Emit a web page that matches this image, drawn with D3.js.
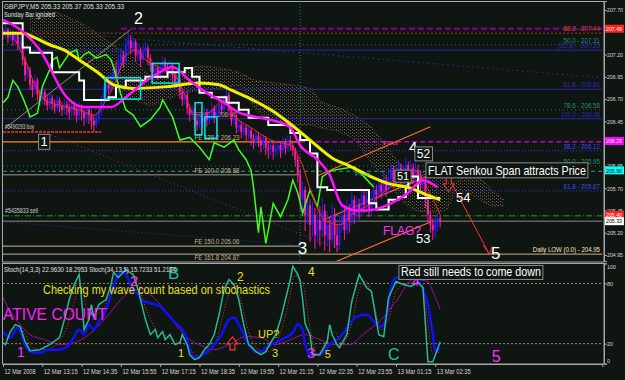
<!DOCTYPE html>
<html>
<head>
<meta charset="utf-8">
<script src="https://cdn.jsdelivr.net/npm/d3@7"></script>
<style>
  body { margin: 0; background: #0f1511; }
  svg text { font-family: "Liberation Sans", Arial, sans-serif; }
</style>
</head>
<body>
<svg id="chart" width="625" height="380"></svg>
<script>
// Data ***********************************************************************
// GBPJPY M5 bars, open = previous close
var firstOpen = 207.44;
var barClose = [207.42,207.48,207.39,207.44,207.36,207.42,207.31,207.34,207.14,206.97,207.03,206.86,206.80,206.91,206.75,206.69,
  206.78,206.69,206.63,206.71,206.65,206.60,206.69,206.62,206.58,206.64,206.60,206.55,206.63,206.58,206.52,206.60,
  206.55,206.49,206.58,206.52,206.46,206.41,206.49,206.55,206.69,206.78,206.86,206.82,206.94,207.03,206.97,207.14,
  207.19,207.12,207.31,207.36,207.27,207.34,207.19,207.25,207.14,207.23,207.27,207.16,207.08,207.00,207.05,206.97,
  207.03,207.12,207.05,207.00,207.08,206.97,206.89,206.91,206.78,206.69,206.75,206.60,206.52,206.58,206.46,206.41,
  206.49,206.44,206.55,206.46,206.52,206.60,206.49,206.55,206.63,206.58,206.69,206.75,206.58,206.46,206.49,206.38,
  206.41,206.33,206.38,206.30,206.35,206.26,206.22,206.29,206.24,206.18,206.26,206.15,206.13,206.18,206.11,206.15,
  206.18,206.13,206.22,206.15,206.24,206.18,206.13,206.02,205.85,205.57,205.68,205.40,205.51,205.29,205.40,205.17,
  205.34,205.23,205.45,205.17,205.29,205.12,205.40,205.17,205.06,205.29,205.40,205.23,205.45,205.34,205.57,205.40,
  205.51,205.43,205.62,205.51,205.59,205.45,205.57,205.68,205.62,205.74,205.66,205.79,205.68,205.81,205.90,205.77,
  205.85,205.93,205.79,205.88,205.96,205.85,205.93,205.81,205.90,205.85,205.74,205.79,205.57,205.40,205.29,205.23,
  205.31,205.36,205.33];
var barHigh = [207.50,207.53,207.50,207.49,207.47,207.46,207.44,207.40,207.36,207.18,207.09,207.06,206.92,206.97,206.94,206.80,
  206.84,206.81,206.73,206.76,206.75,206.70,206.74,206.72,206.67,206.70,206.68,206.65,206.69,206.67,206.62,206.66,
  206.64,206.58,206.63,206.62,206.57,206.52,206.55,206.62,206.74,206.84,206.92,206.95,207.00,207.10,207.12,207.20,
  207.28,207.24,207.38,207.45,207.42,207.40,207.37,207.33,207.28,207.30,207.34,207.30,207.20,207.12,207.10,207.08,
  207.10,207.18,207.16,207.10,207.14,207.11,207.00,206.97,206.94,206.82,206.80,206.79,206.64,206.63,206.61,206.51,
  206.55,206.53,206.61,206.59,206.58,206.66,206.63,206.61,206.70,206.68,206.75,206.82,206.78,206.61,206.55,206.52,
  206.47,206.45,206.43,206.41,206.40,206.38,206.31,206.35,206.33,206.28,206.31,206.29,206.21,206.24,206.22,206.21,
  206.25,206.23,206.28,206.26,206.30,206.29,206.22,206.16,206.06,205.90,205.78,205.72,205.62,205.58,205.55,205.48,
  205.45,205.50,205.60,205.52,205.44,205.38,205.52,205.48,205.30,205.40,205.55,205.48,205.58,205.52,205.66,205.62,
  205.60,205.58,205.70,205.68,205.68,205.65,205.66,205.76,205.74,205.82,205.80,205.88,205.85,205.92,205.98,205.95,
  205.94,206.02,205.98,205.96,206.04,206.00,206.02,205.98,205.99,205.96,205.90,205.86,205.82,205.62,205.45,205.36,
  205.38,205.42,205.40];
var barLow = [207.36,207.38,207.33,207.35,207.30,207.32,207.25,207.22,207.08,206.90,206.93,206.80,206.72,206.76,206.68,206.62,
  206.64,206.63,206.57,206.59,206.58,206.54,206.56,206.55,206.51,206.53,206.52,206.47,206.50,206.51,206.44,206.47,
  206.46,206.40,206.43,206.42,206.36,206.33,206.37,206.44,206.52,206.65,206.74,206.76,206.79,206.90,206.92,206.94,
  207.08,207.05,207.09,207.24,207.20,207.22,207.12,207.13,207.06,207.10,207.17,207.08,207.01,206.93,206.95,206.91,
  206.94,206.99,207.00,206.93,206.96,206.90,206.82,206.84,206.70,206.62,206.64,206.53,206.45,206.47,206.38,206.34,
  206.37,206.36,206.40,206.39,206.42,206.47,206.43,206.44,206.51,206.52,206.54,206.64,206.52,206.40,206.41,206.31,
  206.33,206.26,206.28,206.22,206.24,206.18,206.14,206.17,206.16,206.10,206.13,206.07,206.03,206.07,206.02,206.05,
  206.08,206.04,206.09,206.08,206.11,206.12,206.06,205.94,205.76,205.45,205.40,205.22,205.30,205.10,205.15,205.02,
  205.08,205.05,205.15,205.00,205.05,204.98,205.06,205.03,204.98,205.01,205.20,205.12,205.18,205.20,205.28,205.30,
  205.32,205.35,205.38,205.42,205.45,205.38,205.40,205.50,205.54,205.58,205.58,205.60,205.60,205.64,205.74,205.70,
  205.72,205.80,205.72,205.74,205.82,205.78,205.80,205.75,205.76,205.78,205.66,205.68,205.48,205.32,205.20,205.12,
  205.15,205.22,205.26];

// indicator lines on the price chart, [bar, price]
var maYellow = [[0,207.44],[8,207.44],[12,207.40],[19,207.31],[25,207.25],[31,207.14],[39,206.99],[45,206.86],[53,206.82],
  [67,206.84],[80,206.88],[88,206.86],[93,206.80],[101,206.70],[109,206.58],[117,206.42],[125,206.24],[134,206.04],
  [141,205.95],[149,205.84],[156,205.76],[166,205.70],[172,205.63],[178,205.57]];
var maMagenta = [[0,207.59],[7,207.48],[15,207.25],[26,206.72],[33,206.61],[44,206.61],[50,206.72],[57,206.88],[63,206.99],
  [69,207.06],[76,206.91],[83,206.77],[90,206.66],[96,206.55],[103,206.50],[110,206.46],[117,206.38],[121,206.18],
  [128,206.02],[133,205.85],[138,205.51],[144,205.45],[148,205.45],[158,205.53],[165,205.65],[171,205.79],[177,205.71]];
var kijunWhite = [[0,207.55],[8,207.28],[11,207.22],[20,207.00],[31,206.91],[33,206.69],[43,206.72],[46,206.84],[50,206.91],
  [58,206.95],[67,207.00],[74,207.05],[77,206.95],[80,206.77],[85,206.72],[91,206.66],[96,206.58],[100,206.49],[108,206.41],
  [117,206.32],[121,206.24],[125,206.09],[128,205.71],[132,205.68],[149,205.53],[152,205.46],[157,205.57],[161,205.60],
  [164,205.71],[165,205.83],[169,205.59],[178,205.59]];
var chikouGreen = [[0,206.66],[2,206.72],[4,206.91],[6,206.84],[8,206.72],[10,206.58],[11,206.50],[14,206.54],[16,206.84],
  [19,207.03],[20,207.14],[22,207.17],[23,207.05],[26,207.17],[27,207.22],[30,207.25],[31,207.14],[33,207.20],[35,207.23],
  [38,207.16],[42,207.20],[44,207.14],[45,207.06],[48,206.75],[50,206.58],[53,206.52],[56,206.39],[60,206.47],[64,206.61],
  [65,206.69],[69,206.50],[72,206.24],[76,206.27],[80,206.16],[84,206.02],[86,206.21],[90,206.16],[94,206.24],[96,206.13],
  [99,206.02],[101,205.90],[102,205.71],[103,205.46],[104,205.20],[105,205.49],[107,205.08],[110,205.53],[113,205.38],
  [116,205.57],[118,205.79],[120,205.65],[122,205.42],[125,205.68],[128,205.49],[130,205.83],[134,205.90],[143,205.94],
  [147,205.83],[151,205.71]];
var maRed = [[5,207.36],[9,207.14],[13,206.86],[17,206.69],[23,206.63],[31,206.58],[37,206.52],[42,206.69],[46,206.91],
  [50,207.19],[54,207.25],[58,207.14],[64,207.05],[70,206.97],[74,206.75],[78,206.52],[84,206.55],[90,206.69],[94,206.52],
  [101,206.38],[109,206.24],[117,206.18],[121,206.02],[126,205.62],[131,205.34],[137,205.29],[143,205.43],[149,205.51],
  [156,205.68],[162,205.79],[168,205.90],[172,205.74],[178,205.40]];

// ichimoku cloud
var cloudBars = [11,17,23,29,35,42,48,54,60,66,72,80,88,96,103,109,117,125,129,137,143,149,156,162,168,174,180,184,188,194,200,204];
var cloudTop = [207.61,207.68,207.66,207.59,207.50,207.36,207.25,207.14,206.97,206.94,207.00,207.07,207.05,207.00,206.91,206.89,
  206.86,206.82,206.69,206.60,206.52,206.41,206.18,205.96,205.88,205.88,205.79,205.77,205.88,205.81,205.66,205.57];
var cloudBottom = [207.48,207.36,207.27,207.19,207.12,206.91,206.75,206.69,206.63,206.69,206.75,206.80,206.82,206.85,206.58,206.46,
  206.41,206.41,206.38,206.33,206.24,206.02,205.79,205.57,205.45,205.43,205.45,205.62,205.66,205.57,205.50,205.50];

// stochastics, [bar, value]
var stochFast = [[0,21],[1,19],[3,32],[5,39],[7,37],[9,22],[11,13],[15,14],[19,19],[23,26],[25,44],[27,64],[29,79],[31,89],
  [32,64],[33,34],[35,44],[36,59],[37,46],[39,59],[42,64],[44,79],[45,91],[47,86],[50,94],[51,92],[53,89],[55,74],[56,64],
  [58,44],[60,29],[62,34],[63,26],[65,32],[66,24],[68,29],[70,19],[72,21],[73,29],[75,19],[76,9],[78,4],[80,6],[82,14],
  [84,19],[86,29],[88,49],[90,74],[92,84],[94,79],[96,64],[98,39],[100,19],[101,17],[103,12],[105,9],[107,12],[109,21],
  [111,29],[113,44],[115,64],[117,84],[118,97],[120,89],[121,82],[122,64],[123,40],[125,29],[126,9],[129,9],[132,22],
  [133,39],[134,29],[136,19],[137,16],[140,29],[142,62],[145,89],[148,76],[150,72],[153,29],[155,27],[157,66],[160,82],
  [163,79],[166,77],[169,81],[171,76],[173,2],[175,2],[178,22]];
var stochFastSig = [[0,24],[3,26],[6,36],[9,30],[12,16],[17,14],[22,20],[26,36],[29,62],[32,80],[34,56],[37,48],[41,56],
  [45,78],[49,90],[52,91],[55,80],[58,56],[62,36],[66,28],[71,22],[75,18],[79,8],[83,10],[87,24],[91,62],[94,80],[97,62],
  [100,32],[104,14],[108,12],[112,24],[116,58],[119,88],[122,80],[125,36],[128,10],[132,24],[135,32],[138,20],[142,40],
  [145,74],[148,82],[151,60],[154,34],[157,44],[160,72],[164,80],[168,80],[171,78],[173,40],[175,10],[178,12]];
var stochSlow = [[0,32],[3,26],[6,36],[9,19],[11,12],[15,11],[19,14],[23,14],[27,19],[29,27],[31,34],[33,29],[35,39],[37,34],
  [39,42],[42,54],[44,69],[46,84],[48,92],[50,89],[53,74],[55,69],[56,64],[59,61],[62,59],[64,57],[66,52],[69,44],[71,39],
  [73,34],[75,24],[76,14],[78,6],[80,7],[82,10],[84,14],[86,19],[89,29],[92,44],[94,46],[96,39],[99,24],[101,16],[103,12],
  [105,12],[107,16],[109,19],[112,22],[115,26],[118,31],[120,39],[122,34],[123,19],[125,9],[129,9],[133,19],[137,26],
  [144,47],[148,49],[151,42],[154,37],[156,46],[158,76],[160,86],[162,86],[165,86],[168,86],[170,79],[173,59],[175,29],
  [176,12],[178,16]];
var stochSlowSig = [[0,66],[3,52],[7,39],[11,29],[17,24],[23,19],[29,21],[35,29],[42,46],[48,64],[52,72],[56,74],[60,69],
  [64,59],[68,46],[72,34],[76,24],[80,19],[86,14],[92,19],[99,27],[105,26],[111,19],[117,24],[123,29],[129,24],[135,19],
  [141,19],[147,30],[154,44],[160,62],[167,84],[173,82],[175,72],[178,54]];

// axes (207.45 and 206.20 sit under the price boxes)
var priceTicks = [207.70,207.20,206.95,206.70,206.45,205.95,205.70,205.45,205.20,204.95];
var stochTicks = [100,80,20,0];
var timeTickBars = [0,16,32,48,64,80,96,112,128,144,160,176];
var timeLabels = ["12 Mar 2008","12 Mar 13:15","12 Mar 14:35","12 Mar 15:55","12 Mar 17:15","12 Mar 18:35",
  "12 Mar 19:55","12 Mar 21:15","12 Mar 22:35","12 Mar 23:55","13 Mar 01:15","13 Mar 02:35"];

// horizontal levels
var levelPrices = [207.49,207.44,207.31,207.25,206.81,206.58,206.48,206.33,206.22,206.22,206.12,205.95,205.89,205.85,205.67,205.39,205.33,205.05,204.96];
var levelLabels = ["","88.2 - 207.44","50.0 - 207.31","(61.8) - 207.25","61.8 - 206.81","78.6 - 206.58","100.0 - 206.48","","","",
  "38.2 - 206.12","50.0 - 205.95","","","61.8 - 205.67","","","","Daily LOW (0.0) - 204.95"];
var levelFrom = [48,0,0,0,0,0,0,0,0,121,0,0,0,0,0,0,0,0,0];
var levelTo = [244,244,244,244,244,244,244,40,121,244,244,244,244,121,244,244,244,121,244];
var feLabels = ["FE 61.8  206.46","FE 138.2  206.23","FE 100.0  205.88","FE 150.0  205.06","FE 161.8  204.87"];
var fePrices = [206.48,206.22,205.85,205.05,204.87];

// price boxes on the scale
var boxPrices = [207.49,206.23,205.90,205.40,205.33];

// trendlines, [bar, price] pairs
var trendFrom = [[0.8,206.37],[15,206.35],[1,205.32],[39,207.41],[128,205.84],[130,205.34],[135,204.87],[183,205.74]];
var trendTo = [[51.7,207.475],[137,205.01],[117,205.07],[244,206.94],[174,206.39],[174,205.85],[174,205.32],[198,204.96]];

// cyan boxes [bar0, bar1, priceTop, priceBottom]
var cyanBoxes = [[41.5,56,206.94,206.70],[60.7,71.7,207.10,206.88],[78.2,81,206.66,206.30],[82.2,87.1,206.50,206.26]];

// notes on the price chart
var mainNotes = [[53.3,207.54,"2"],[15.3,206.17,"1"],[120,204.96,"3"],[165.3,206.11,"4"],[168.5,206.04,"52"],
  [160.4,205.79,"51"],[173,205.85,"FLAT Senkou Span attracts Price"],[184.4,205.55,"54"],[168.2,205.08,"53"],
  [154.7,205.17,"FLAG?"],[198.7,204.90,"5"],[154.7,206.18,"Pivot"],[143.3,205.84,"Pivot"]];
// notes on the stochastics
var stochNotes = [[67.2,84,"B"],[51.7,77,"2"],[95.3,82,"2"],[124.2,87,"4"],[166.5,77,"4"],
  [16.3,69,"Checking my wave count based on stochastics"],[0,44,"ATIVE COUNT"],[5.7,7,"1"],[71.3,7,"1"],
  [103.8,26,"UP?"],[109.5,7,"3"],[123.8,6,"3"],[131,6,"5"],[156.8,4,"C"],[199,2,"5"],[162,87,"Red still needs to come down"]];

// Styles *********************************************************************
var levelStyles = [["#7a007a",2.5,"6,3"],["#a83a28",1,"2,2"],["#1f6f60",1,"1,3"],["#22228a",1.2,null],["#22228a",1.2,null],
  ["#1f6f60",1,"1,3"],["#22228a",1.2,null],["#ff3030",1.5,"3,1"],["#ff8a20",1.2,null],["#c000c0",1.5,"5,3"],
  ["#3434d8",1,"1,2"],["#1f6f60",1,"1,3"],["#2b9a8a",1,"4,3"],["#9a9a9a",1,null],["#3434d8",1,"1,2"],
  ["#2a9a2a",1,"6,2,1,2"],["#8a8a8a",1,null],["#c8b898",1,null],["#c8b090",1,null]];
var trendStyles = [["#b8a888",0.8,null],["#8a2a8a",1,"1,3"],["#3030c0",1,"1,3"],["#3a3ae0",1,"1,4"],
  ["#ff6a2a",1.2,null],["#ff6a2a",1.2,null],["#ff6a2a",1.2,null],["#ff3030",1,null]];
// [size, colour, boxed, fit width]
var mainNoteStyles = [[16,"#fff",0,0],[13,"#fff",1,0],[17,"#fff",0,0],[15,"#fff",0,0],[12,"#fff",1,0],[11,"#fff",1,0],
  [13,"#fff",1,158],[13,"#fff",0,0],[13,"#fff",0,0],[12,"#ff30ff",0,0],[17,"#fff",0,0],[6,"#ff4aa0",0,15],[6,"#30b090",0,15]];
var stochNoteStyles = [[17,"#20c0a0",0,0],[15,"#ff30ff",0,0],[12,"#e8e020",0,0],[12,"#e8e020",0,0],[13,"#ff30ff",0,0],
  [12,"#e8e020",0,227],[17,"#ff20ff",0,104],[14,"#ff30ff",0,0],[11,"#e8e020",0,0],[11,"#e8e020",0,0],[11,"#e8e020",0,0],
  [15,"#ff30ff",0,0],[11,"#e8e020",0,0],[16,"#20c0a0",0,0],[16,"#ff30ff",0,0],[12,"#fff",1,140]];
var boxColors = ["#ff2020","#ff00ff","#00ffff","#ff2020","#ffffff"];
var boxText = ["#fff","#fff","#000","#fff","#000"];

// Chart **********************************************************************
var svg = d3.select("#chart");
svg.append("rect").attr("width", 625).attr("height", 380).attr("fill", "#0f1511");

var x = d3.scaleLinear().domain([0, 244]).range([3, 602.3]);
var y = d3.scaleLinear().domain([204.883, 207.801]).range([261, 1]);
var ys = d3.scaleLinear().domain([0, 100]).range([363.7, 263.4]);

var defs = svg.append("defs");
defs.append("clipPath").attr("id", "clipMain").append("rect").attr("x", 3).attr("y", 2).attr("width", 600).attr("height", 259);
defs.append("clipPath").attr("id", "clipStoch").append("rect").attr("x", 3).attr("y", 264).attr("width", 600).attr("height", 100);
var kumo = defs.append("pattern").attr("id", "kumo").attr("width", 4).attr("height", 3).attr("patternUnits", "userSpaceOnUse");
kumo.append("rect").attr("x", 0).attr("y", 0).attr("width", 1).attr("height", 1).attr("fill", "#8a5a48");
kumo.append("rect").attr("x", 2).attr("y", 1).attr("width", 1).attr("height", 1).attr("fill", "#5e5a56");

function fit(sel, len) {
  if (len) sel.attr("textLength", len).attr("lengthAdjust", "spacingAndGlyphs");
  return sel;
}
function boxAround(g, t) {
  var b = t.node().getBBox();
  g.insert("rect", function(){ return t.node(); })
    .attr("x", b.x - 2).attr("y", b.y).attr("width", b.width + 4).attr("height", b.height)
    .attr("fill", "#0f1511").attr("stroke", "#8c8c8c").attr("stroke-width", 1);
}

var main = svg.append("g").attr("clip-path", "url(#clipMain)");

// cloud
var cloud = cloudBars.map(function(b, i){ return {b: b, top: cloudTop[i], bot: cloudBottom[i]}; });
main.append("path").datum(cloud)
  .attr("d", d3.area().x(d => x(d.b)).y0(d => y(d.bot)).y1(d => y(d.top)).curve(d3.curveMonotoneX))
  .attr("fill", "url(#kumo)");
["top", "bot"].forEach(function(k){
  main.append("path").datum(cloud)
    .attr("d", d3.line().x(d => x(d.b)).y(d => y(d[k])).curve(d3.curveMonotoneX))
    .attr("fill", "none").attr("stroke", "#7a5242").attr("stroke-dasharray", "1,2");
});

// vertical marker
main.append("line").attr("x1", x(121)).attr("x2", x(121)).attr("y1", 1).attr("y2", 261)
  .attr("stroke", "#1f7f7f").attr("stroke-dasharray", "1,2");

// horizontal levels
levelPrices.forEach(function(p, i){
  var s = levelStyles[i];
  main.append("line").attr("x1", x(levelFrom[i])).attr("x2", x(levelTo[i]))
    .attr("y1", y(p)).attr("y2", y(p))
    .attr("stroke", s[0]).attr("stroke-width", s[1]).attr("stroke-dasharray", s[2]);
  if (levelLabels[i]) {
    fit(main.append("text").attr("x", 600).attr("y", y(p) - 2).attr("text-anchor", "end")
      .attr("font-size", 6.5).attr("fill", d3.color(s[0]).brighter(0.7)).text(levelLabels[i]), levelLabels[i].length * 2.8);
  }
});
fePrices.forEach(function(p, i){
  fit(main.append("text").attr("x", x(78)).attr("y", y(p) - 2).attr("font-size", 6.5).attr("fill", "#c8b898")
    .text(feLabels[i]), feLabels[i].length * 2.8);
});
fit(main.append("text").attr("x", 5).attr("y", y(206.33) - 3).attr("font-size", 6.5).attr("fill", "#d0d0d0").text("#5490293 buy"), 29);
fit(main.append("text").attr("x", 5).attr("y", y(205.39) - 3).attr("font-size", 6.5).attr("fill", "#d0d0d0").text("#5435833 sell"), 33);

// trendlines
trendFrom.forEach(function(a, i){
  var s = trendStyles[i];
  main.append("line").attr("x1", x(a[0])).attr("y1", y(a[1])).attr("x2", x(trendTo[i][0])).attr("y2", y(trendTo[i][1]))
    .attr("stroke", s[0]).attr("stroke-width", s[1]).attr("stroke-dasharray", s[2]);
});
// arrow head at the end of the red line
var tip = trendTo[7];
main.append("path")
  .attr("d", "M" + (x(tip[0]) - 6) + "," + (y(tip[1]) - 9) + "L" + x(tip[0]) + "," + y(tip[1]) + "L" + (x(tip[0]) + 3) + "," + (y(tip[1]) - 8))
  .attr("fill", "none").attr("stroke", "#ff3030").attr("stroke-width", 1);

// bars
var bars = barClose.map(function(c, i){
  return {i: i, o: i ? barClose[i - 1] : firstOpen, h: barHigh[i], l: barLow[i], c: c};
});
var barCol = d => d.c >= d.o ? "#2020ff" : "#ff1c9c";
main.selectAll(".wick").data(bars).enter().append("line")
  .attr("x1", d => x(d.i)).attr("x2", d => x(d.i)).attr("y1", d => y(d.h)).attr("y2", d => y(d.l))
  .attr("stroke", barCol).attr("stroke-width", 1);
main.selectAll(".body").data(bars).enter().append("rect")
  .attr("x", d => x(d.i) - 1).attr("width", 2)
  .attr("y", d => y(Math.max(d.o, d.c))).attr("height", d => Math.max(1, Math.abs(y(d.o) - y(d.c))))
  .attr("fill", barCol);

// indicator lines
function drawLine(g, data, sy, curve, col, w, dash) {
  g.append("path").datum(data)
    .attr("d", d3.line().x(d => x(d[0])).y(d => sy(d[1])).curve(curve))
    .attr("fill", "none").attr("stroke", col).attr("stroke-width", w).attr("stroke-dasharray", dash || null);
}
drawLine(main, chikouGreen, y, d3.curveLinear, "#3cff1e", 1.5);
drawLine(main, maRed, y, d3.curveMonotoneX, "#ff2a2a", 1);
drawLine(main, kijunWhite, y, d3.curveStepAfter, "#ffffff", 2);
drawLine(main, maYellow, y, d3.curveMonotoneX, "#f0f000", 3);
drawLine(main, maMagenta, y, d3.curveMonotoneX, "#ff10ff", 2.5);

// cyan boxes
cyanBoxes.forEach(function(b){
  main.append("rect").attr("x", x(b[0])).attr("y", y(b[2])).attr("width", x(b[1]) - x(b[0])).attr("height", y(b[3]) - y(b[2]))
    .attr("fill", "none").attr("stroke", "#00e8e8").attr("stroke-width", 1.5);
});

// red down arrow
var ax = x(181.5), ay = y(205.85);
main.append("path")
  .attr("d", "M" + (ax - 2.5) + "," + ay + "h5v9h3l-5.5,8l-5.5,-8h3z")
  .attr("fill", "none").attr("stroke", "#ff3030").attr("stroke-width", 1);

// notes
mainNotes.forEach(function(n, i){
  var s = mainNoteStyles[i];
  var t = fit(main.append("text").attr("x", x(n[0])).attr("y", y(n[1])).attr("font-size", s[0]).attr("fill", s[1]).text(n[2]), s[3]);
  if (s[2]) boxAround(main, t);
});

// header
fit(svg.append("text").attr("x", 4).attr("y", 9).attr("font-size", 7).attr("fill", "#e0e0e0")
  .text("GBPJPY,M5  205.33 205.37 205.33 205.33"), 120);
fit(svg.append("text").attr("x", 4).attr("y", 17).attr("font-size", 7).attr("fill", "#e0e0e0").text("Sunday Bar ignored"), 51);

// Stochastics ****************************************************************
var sto = svg.append("g").attr("clip-path", "url(#clipStoch)");
[80, 20].forEach(function(v){
  sto.append("line").attr("x1", 3).attr("x2", 603).attr("y1", ys(v)).attr("y2", ys(v))
    .attr("stroke", "#8a8a8a").attr("stroke-dasharray", "2,2");
});
drawLine(sto, stochSlowSig, ys, d3.curveMonotoneX, "#9a109a", 1);
drawLine(sto, stochFastSig, ys, d3.curveMonotoneX, "#ff3030", 1, "1,2");
drawLine(sto, stochSlow, ys, d3.curveMonotoneX, "#1010f8", 2.5);
drawLine(sto, stochFast, ys, d3.curveLinear, "#28b898", 1.5);

var ux = x(93.4), uy = ys(26.7);
sto.append("path").attr("d", "M" + ux + "," + uy + "l5.5,7h-3v6h-5v-6h-3z")
  .attr("fill", "none").attr("stroke", "#ff3030").attr("stroke-width", 1.2);

stochNotes.forEach(function(n, i){
  var s = stochNoteStyles[i];
  var t = fit(sto.append("text").attr("x", x(n[0])).attr("y", ys(n[1])).attr("font-size", s[0]).attr("fill", s[1]).text(n[2]), s[3]);
  if (s[2]) boxAround(sto, t);
});
fit(sto.append("text").attr("x", 4).attr("y", 272).attr("font-size", 7).attr("fill", "#e0e0e0")
  .text("Stoch(14,3,3) 22.9630 18.2953  Stoch(34,13,5) 15.7233 51.2134"), 172);
fit(sto.append("text").attr("x", 4).attr("y", 369).attr("font-size", 7).attr("fill", "#b0b0b0")
  .text("MetaTrader, \u00a9 2001-2007 MetaQuotes Software Corp."), 150);

// Frames and axes ************************************************************
svg.append("rect").attr("x", 2.5).attr("y", 1.5).attr("width", 601.5).attr("height", 260.5)
  .attr("fill", "none").attr("stroke", "#a8a8a8");
svg.append("rect").attr("x", 2.5).attr("y", 263.5).attr("width", 601.5).attr("height", 100.5)
  .attr("fill", "none").attr("stroke", "#a8a8a8");

var yAxis = svg.append("g").attr("transform", "translate(604,0)")
  .call(d3.axisRight(y).tickValues(priceTicks).tickFormat(d3.format(".2f")).tickSize(3));
var sAxis = svg.append("g").attr("transform", "translate(604,0)")
  .call(d3.axisRight(ys).tickValues(stochTicks).tickSize(3));
var xAxis = svg.append("g").attr("transform", "translate(0,364)")
  .call(d3.axisBottom(x).tickValues(timeTickBars).tickFormat((d, i) => timeLabels[i]).tickSize(3));
[yAxis, sAxis, xAxis].forEach(function(a){
  a.select(".domain").attr("stroke", "#a8a8a8");
  a.selectAll("line").attr("stroke", "#a8a8a8");
  a.selectAll("text").attr("fill", "#d8d8d8").attr("font-size", 6.5).attr("font-family", "Liberation Sans, Arial, sans-serif");
});
yAxis.selectAll("text").attr("x", 3).attr("font-size", 5.8).each(function(){ fit(d3.select(this), 16); });
sAxis.selectAll("text").attr("x", 3).attr("font-size", 5.8).attr("y", function(d){ return d == 100 ? 3.5 : (d == 0 ? -3.5 : 0); })
  .each(function(d){ fit(d3.select(this), String(d).length * 3); });
xAxis.selectAll("text").attr("text-anchor", "start").attr("x", 1).attr("y", 5)
  .each(function(d, i){ fit(d3.select(this), i ? 34 : 31); });

// price boxes on the scale
boxPrices.forEach(function(p, i){
  svg.append("rect").attr("x", 605).attr("y", y(p) - 4).attr("width", 19).attr("height", 8).attr("fill", boxColors[i]);
  fit(svg.append("text").attr("x", 606).attr("y", y(p) + 2.2).attr("font-size", 5.8).attr("fill", boxText[i])
    .text(d3.format(".2f")(p)), 16);
});
</script>
</body>
</html>
